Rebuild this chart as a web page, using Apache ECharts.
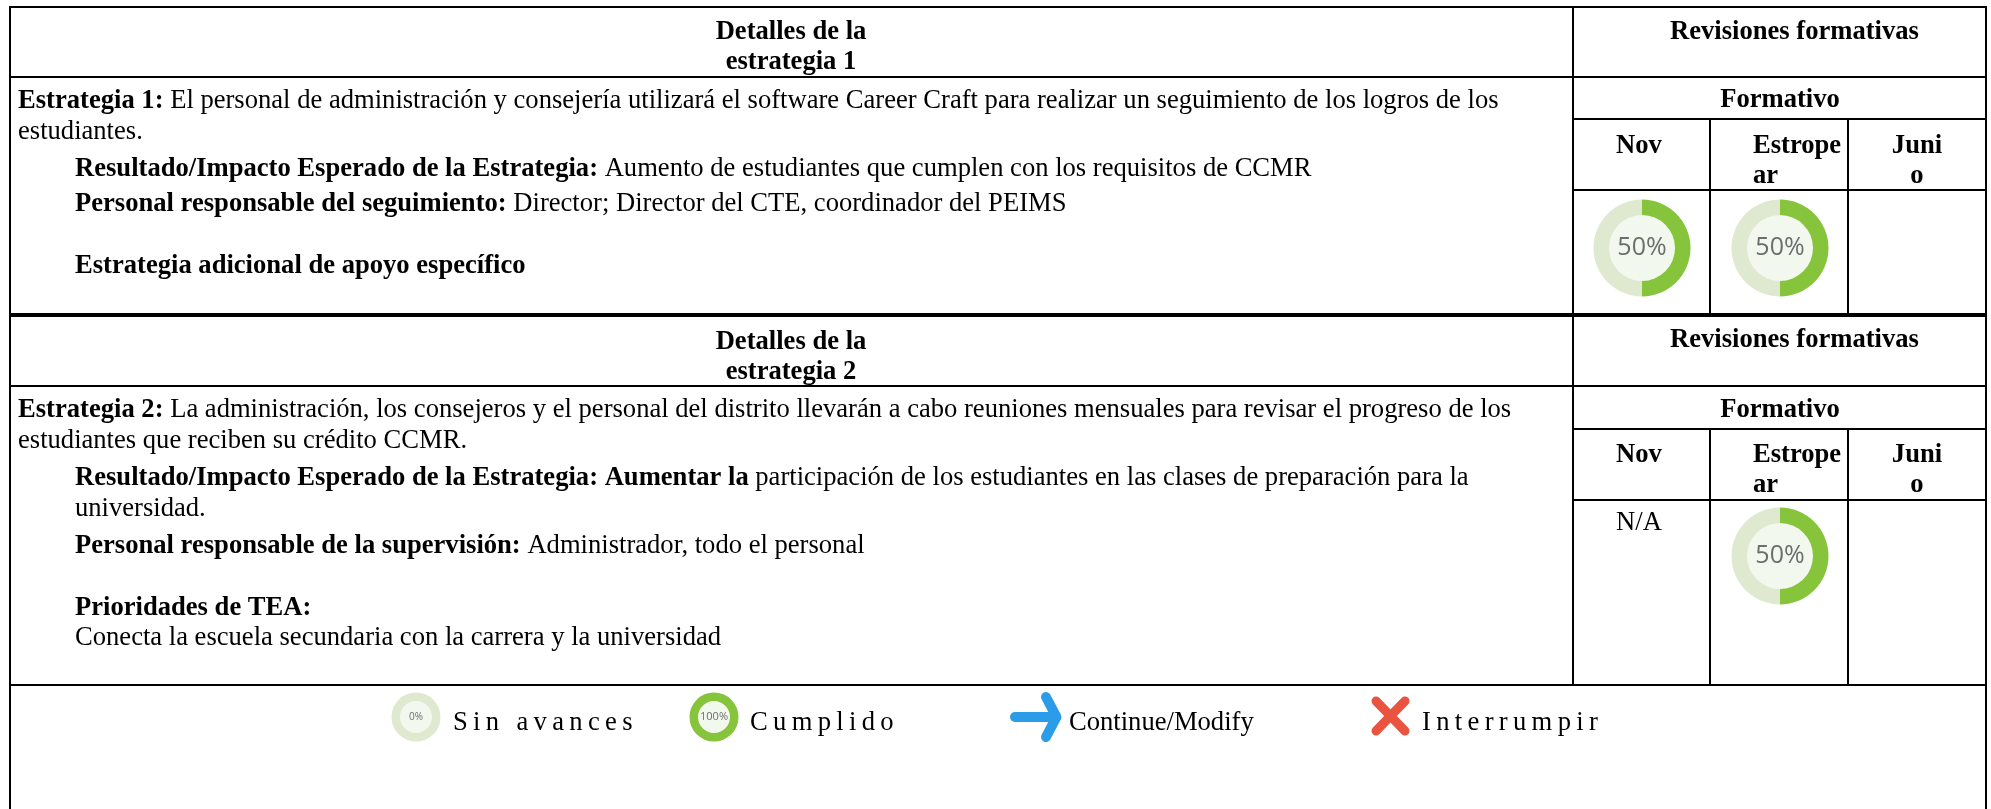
<!DOCTYPE html>
<html>
<head>
<meta charset="utf-8">
<style>
html, body { margin: 0; padding: 0; background: #fff; }
#main { width: 1991px; height: 809px; }
</style>
<script src="https://cdn.jsdelivr.net/npm/echarts@6/dist/echarts.min.js"></script>
</head>
<body>
<div id="main"></div>
<script>
// datos
var months = ['Nov', 'Estropear', 'Junio'];
var reviewsOne = [50, 50];      // Nov, Estropear
var reviewsTwo = [50];          // Estropear (Nov = N/A)
var legendNone = [0];
var legendDone = [100];

var headerA = ['Detalles de la', 'estrategia 1'];
var headerB = ['Detalles de la', 'estrategia 2'];
var rightTitle = 'Revisiones formativas';
var formative = 'Formativo';

var linesOne = [
    '{b|Estrategia 1:} El personal de administración y consejería utilizará el software Career Craft para realizar un seguimiento de los logros de los',
    'estudiantes.',
    '{b|Resultado/Impacto Esperado de la Estrategia:} Aumento de estudiantes que cumplen con los requisitos de CCMR',
    '{b|Personal responsable del seguimiento:} Director; Director del CTE, coordinador del PEIMS',
    '{b|Estrategia adicional de apoyo específico}'
];
var linesTwo = [
    '{b|Estrategia 2:} La administración, los consejeros y el personal del distrito llevarán a cabo reuniones mensuales para revisar el progreso de los',
    'estudiantes que reciben su crédito CCMR.',
    '{b|Resultado/Impacto Esperado de la Estrategia: Aumentar la} participación de los estudiantes en las clases de preparación para la',
    'universidad.',
    '{b|Personal responsable de la supervisión:} Administrador, todo el personal',
    '{b|Prioridades de TEA:}',
    'Conecta la escuela secundaria con la carrera y la universidad'
];
var legendLabels = ['Sin avances', 'Cumplido', 'Continue/Modify', 'Interrumpir'];

var green = '#86c43c';
var pale = '#dfe9d0';
var hole = '#f3f8ee';
var serif = '"Liberation Serif", "Times New Roman", serif';
var size = 26.6;

var myChart = echarts.init(document.getElementById('main'));
var graphic = [];

function hline(x1, x2, y, w) {
    graphic.push({ type: 'line', shape: { x1: x1, y1: y, x2: x2, y2: y }, style: { stroke: '#000', lineWidth: w || 2 } });
}
function vline(x, y1, y2, w) {
    graphic.push({ type: 'line', shape: { x1: x, y1: y1, x2: x, y2: y2 }, style: { stroke: '#000', lineWidth: w || 2 } });
}
function label(t, x, y, align, bold) {
    graphic.push({
        type: 'text', x: x, y: y,
        style: {
            text: t, fill: '#000', align: align || 'left', verticalAlign: 'middle',
            fontFamily: serif, fontSize: size, fontWeight: bold ? 'bold' : 'normal',
            rich: { b: { fontFamily: serif, fontSize: size, fontWeight: 'bold', fill: '#000' } }
        }
    });
}
// la leyenda va con las letras separadas
function spaced(t) {
    return t.split('').join('\u2009');
}

// tabla
hline(9, 1987, 7);
hline(9, 1987, 77);
hline(9, 1987, 315, 4);
hline(9, 1987, 386);
hline(9, 1987, 685);
hline(1573, 1986, 119);
hline(1573, 1986, 190);
hline(1573, 1986, 429);
hline(1573, 1986, 500);
vline(10, 6, 809);
vline(1986, 6, 809);
vline(1573, 6, 685);
vline(1710, 119, 315);
vline(1848, 119, 315);
vline(1710, 429, 685);
vline(1848, 429, 685);

// cabeceras
label(headerA[0], 791, 32, 'center', true);
label(headerA[1], 791, 62, 'center', true);
label(headerB[0], 791, 342, 'center', true);
label(headerB[1], 791, 372, 'center', true);
label(rightTitle, 1670, 32, 'left', true);
label(rightTitle, 1670, 340, 'left', true);
label(formative, 1780, 100, 'center', true);
label(formative, 1780, 410, 'center', true);

[0, 309].forEach(function (dy) {
    label(months[0], 1639, 146 + dy, 'center', true);
    label(months[1].slice(0, 7), 1753, 146 + dy, 'left', true);
    label(months[1].slice(7), 1753, 176 + dy, 'left', true);
    label(months[2].slice(0, 4), 1917, 146 + dy, 'center', true);
    label(months[2].slice(4), 1917, 176 + dy, 'center', true);
});
label('N/A', 1639, 523, 'center');

// texto estrategias
label(linesOne[0], 18, 101);
label(linesOne[1], 18, 132);
label(linesOne[2], 75, 169);
label(linesOne[3], 75, 204);
label(linesOne[4], 75, 266);

label(linesTwo[0], 18, 410);
label(linesTwo[1], 18, 441);
label(linesTwo[2], 75, 478);
label(linesTwo[3], 75, 509);
label(linesTwo[4], 75, 546);
label(linesTwo[5], 75, 608);
label(linesTwo[6], 75, 638);

// leyenda
label(spaced(legendLabels[0]), 453, 723);
label(spaced(legendLabels[1]), 750, 723);
label(legendLabels[2], 1069, 723);
label(spaced(legendLabels[3]), 1422, 723);

graphic.push({ type: 'polyline', shape: { points: [[1015, 717], [1056, 717]] }, style: { stroke: '#2b9ce8', lineWidth: 10, lineCap: 'round', fill: null } });
graphic.push({ type: 'polyline', shape: { points: [[1046, 697], [1056.5, 717], [1046, 737]] }, style: { stroke: '#2b9ce8', lineWidth: 10, lineCap: 'round', lineJoin: 'round', fill: null } });
graphic.push({ type: 'line', shape: { x1: 1376, y1: 701, x2: 1405, y2: 731 }, style: { stroke: '#ea5340', lineWidth: 9, lineCap: 'round' } });
graphic.push({ type: 'line', shape: { x1: 1405, y1: 701, x2: 1376, y2: 731 }, style: { stroke: '#ea5340', lineWidth: 9, lineCap: 'round' } });

function donut(value, x, y, outer, inner, fontSize) {
    graphic.push({ type: 'circle', z: -1, shape: { cx: x, cy: y, r: inner + 1 }, style: { fill: hole } });
    return {
        type: 'pie', silent: true, animation: false,
        center: [x, y], radius: [inner, outer], startAngle: 90, clockwise: true,
        minAngle: 0, stillShowZeroSum: true,
        itemStyle: { borderWidth: 0 },
        label: {
            show: true, position: 'center', formatter: value + '%',
            padding: [2, 0, 0, 0],
            fontFamily: '"Open Sans", sans-serif', fontSize: fontSize, color: '#6a6f6e'
        },
        labelLine: { show: false },
        data: [
            { value: value, itemStyle: { color: green } },
            { value: 100 - value, itemStyle: { color: pale }, label: { show: false } }
        ]
    };
}

var series = [
    donut(reviewsOne[0], 1642, 248, 48.5, 33, 25),
    donut(reviewsOne[1], 1780, 248, 48.5, 33, 25),
    donut(reviewsTwo[0], 1780, 556, 48.5, 33, 25),
    donut(legendNone[0], 416, 717, 24.5, 16, 10),
    donut(legendDone[0], 714, 717, 24.5, 16, 11)
];

myChart.setOption({
    animation: false,
    backgroundColor: '#fff',
    graphic: graphic,
    series: series
});
</script>
</body>
</html>
